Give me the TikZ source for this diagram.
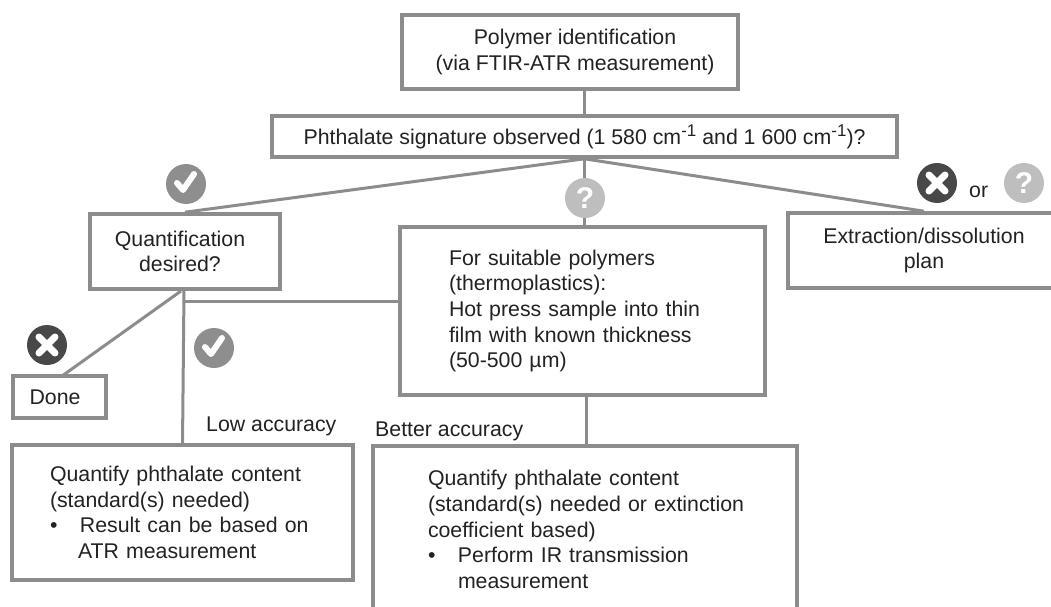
\documentclass[tikz,border=0pt]{standalone}
\usepackage{fontspec}
\setmainfont{Liberation Sans}
\definecolor{ln}{HTML}{8C8C8C}
\definecolor{tx}{HTML}{222222}
\definecolor{okc}{HTML}{8E8E8E}
\definecolor{noc}{HTML}{484848}
\definecolor{qc}{HTML}{BEBEBE}
\newcommand{\bul}{\makebox[30pt][l]{•}}
\newcommand{\supr}[1]{\raisebox{8pt}{\fontsize{17}{17}\selectfont #1}}
\tikzset{
  x=1pt,y=-1pt,
  box/.style={draw=ln,line width=3.6pt,fill=white,text=tx,font=\fontsize{21.3}{25.6}\selectfont,inner sep=0pt,anchor=center,align=center},
  lbox/.style={box,align=left},
  conn/.style={draw=ln,line width=3pt},
  lab/.style={text=tx,font=\fontsize{21.3}{25.6}\selectfont,inner sep=0pt,anchor=base west},
  ic/.style={circle,minimum size=40pt,inner sep=0pt},
  okicon/.style={ic,fill=okc,path picture={\draw[white,line width=6pt,line cap=round,line join=round] ([xshift=-9pt,yshift=1pt]path picture bounding box.center) -- ++(6,7) -- ++(11,-16);}},
  noicon/.style={ic,fill=noc,path picture={\draw[white,line width=7pt,line cap=round] ([xshift=-8pt,yshift=8pt]path picture bounding box.center) -- ++(16,16) ([xshift=8pt,yshift=8pt]path picture bounding box.center) -- ++(-16,16);}},
  qicon/.style={ic,fill=qc,text=white,font=\fontsize{30}{30}\selectfont\bfseries},
}
\begin{document}
\begin{tikzpicture}
\useasboundingbox (0,0) rectangle (1051,607);
\clip (0,0) rectangle (1051,607);
\fill[white] (0,0) rectangle (1051,607);
% boxes
\node[box,minimum width=336pt,minimum height=74pt] (top) at (570,52) {\hspace*{10pt}Polymer identification\\\hspace*{10pt}(via FTIR-ATR measurement)};
\node[box,minimum width=625pt,minimum height=41pt] (ph) at (584.5,136.5) {Phthalate signature observed (1 580 cm\supr{-1} and 1 600 cm\supr{-1})?};
\node[box,minimum width=190pt,minimum height=75pt] (quant) at (185,251.5) {Quantification\hspace*{10pt}\\desired?\hspace*{10pt}};
\node[lbox,text width=267pt,inner xsep=49pt,minimum height=168pt] (mid) at (582.5,311) {For suitable polymers\\(thermoplastics):\\Hot press sample into thin\\film with known thickness\\(50-500 µm)};
\node[box,minimum width=272pt,minimum height=75pt] (ext) at (924,250.5) {Extraction/dissolution\\plan};
\node[box,minimum width=93pt,minimum height=42pt] (done) at (59.5,397) {Done\hspace*{9pt}};
\node[lbox,text width=265pt,inner xsep=38pt,minimum height=135pt] (lq) at (182.5,512.5) {Quantify phthalate content\\(standard(s) needed)\\\bul Result can be based on\\\hspace*{28pt}ATR measurement};
\node[lbox,text width=368pt,inner xsep=28pt,minimum height=167pt] (rq) at (585,529.5) {\hspace*{27pt}Quantify phthalate content\\\hspace*{27pt}(standard(s) needed or extinction\\\hspace*{27pt}coefficient based)\\\hspace*{27pt}\bul Perform IR transmission\\\hspace*{57pt}measurement};
% connector end points
\coordinate (qout) at (184,290);
\coordinate (lqin) at (182.5,445);
\coordinate (qdone) at (181,291);
\coordinate (donein) at (62,376);
\coordinate (qbend) at (184.5,301);
\coordinate (midwest) at (400,301);
\coordinate (midout) at (586.5,395);
\coordinate (rqin) at (586.5,446);
% connectors
\draw[conn] (top.south -| ph.north) -- (ph.north);
\draw[conn] (ph.south) -- (quant.north);
\draw[conn] (ph.south) -- (mid.north -| ph.south);
\draw[conn] (ph.south) -- (ext.north);
\draw[conn] (qout) -- (lqin);
\draw[conn] (qdone) -- (donein);
\draw[conn] (qbend) -- (midwest);
\draw[conn] (midout) -- (rqin);
% icons
\node[okicon] (ok1) at (186,184) {};
\node[noicon] (no1) at (47,345) {};
\node[okicon] (ok2) at (214,348) {};
\node[qicon] (q1) at (585,198) {?};
\node[noicon] (no2) at (937,183) {};
\node[qicon] (q2) at (1024,183) {?};
\node[lab] (orlab) at (969,197) {or};
\node[lab] (low) at (206,431) {Low accuracy};
\node[lab] (better) at (375,436) {Better accuracy};
\end{tikzpicture}
\end{document}
